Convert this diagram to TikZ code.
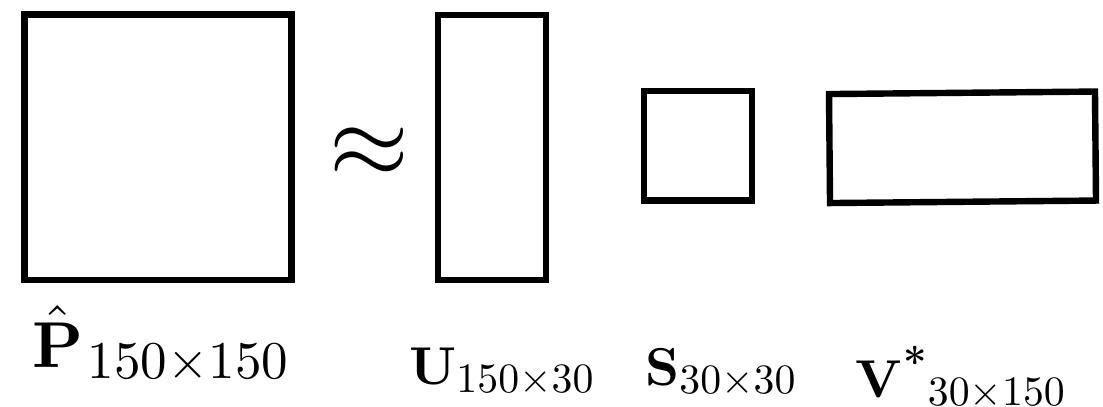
\RequirePackage{fix-cm}
\documentclass[tikz,border=0pt]{standalone}
\usepackage{amsmath}
\usepackage{tikz}
\usetikzlibrary{positioning}
\DeclareFontShape{OT1}{cmr}{m}{n}{<-> cmr10}{}
\DeclareFontShape{OT1}{cmr}{bx}{n}{<-> cmbx10}{}
\DeclareMathSizes{25.3}{25.3}{20.7}{15}
\DeclareMathSizes{20.8}{20.8}{16.3}{12}

\begin{document}
\begin{tikzpicture}[
  x=0.39pt, y=0.39pt,
  every node/.style={inner sep=0pt, outer sep=0pt},
  matbox/.style 2 args={rectangle, draw, line width=2.5pt, minimum width=#1*0.39pt, minimum height=#2*0.39pt},
  biglabel/.style={anchor=base, font=\fontsize{25.3}{30}\selectfont},
  smalllabel/.style={anchor=base, font=\fontsize{20.8}{25}\selectfont}
]
  \useasboundingbox (0,0) rectangle (1103,406);

  % the four matrices
  \node[matbox={267}{265.5}] (pmat) at (158,258.75) {};
  \node[matbox={108}{265}]   (umat) at (492,258.5)  {};
  \node[matbox={108}{109.7}] (smat) at (698,260.15) {};
  \node[matbox={266}{109}, rotate=0.54] (vmat) at (962.5,258.7) {};

  \node[font=\fontsize{40}{48}\selectfont] (approx) at (369,253) {$\approx$};

  % sizes
  \node[biglabel]   (plbl) at (161,39) {$\hat{\mathbf{P}}_{\mkern1.5mu 150\times 150}$};
  \node[smalllabel] (ulbl) at (502,22) {$\mathbf{U}_{150\times 30}$};
  \node[smalllabel] (slbl) at (721,21) {$\mathbf{S}_{30\times 30}$};
  \node[smalllabel] (vlbl) at (961,9)  {${\mathbf{V}^{\textbf{*}}}_{30\times 150}$};
\end{tikzpicture}
\end{document}
